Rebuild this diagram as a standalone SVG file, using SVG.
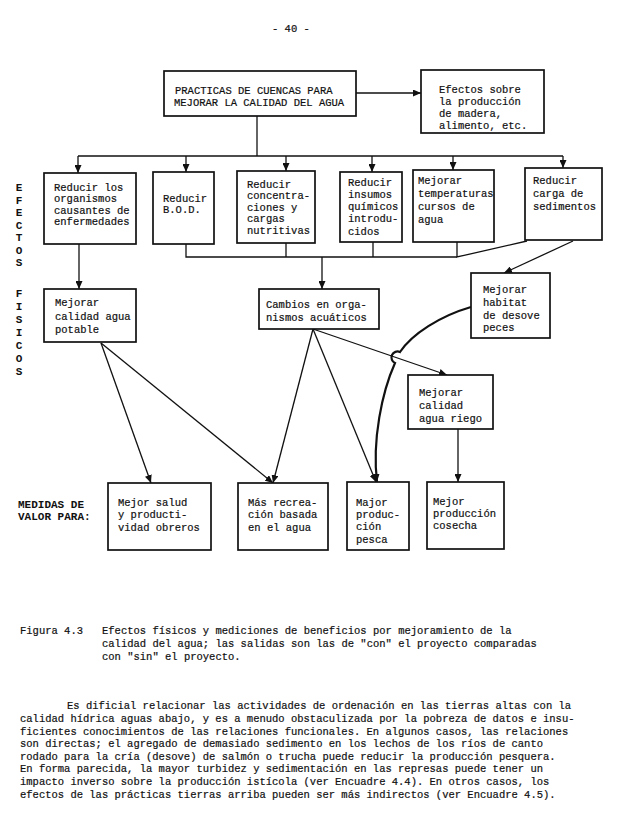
<svg xmlns="http://www.w3.org/2000/svg" width="619" height="821" viewBox="0 0 619 821">
<style>
  .t { font-family: "Liberation Mono", "Courier New", monospace; font-size: 10.5px; fill: #111; stroke: #111; stroke-width: 0.2; }
  .b { font-family: "Liberation Mono", "Courier New", monospace; font-size: 11px; font-weight: bold; fill: #111; }
  .box { fill: #fff; stroke: #111; stroke-width: 1.7; }
  .ln { fill: none; stroke: #111; stroke-width: 1.3; }
  .thick { fill: none; stroke: #111; stroke-width: 2.2; }
</style>
<defs>
  <marker id="ah" markerUnits="userSpaceOnUse" markerWidth="8" markerHeight="7" refX="8" refY="3.5" orient="auto">
    <path d="M0,0 L8,3.5 L0,7 z" fill="#111"/>
  </marker>
</defs>
<rect width="619" height="821" fill="#fff"/>

<text class="t" x="272" y="32">- 40 -</text>

<g id="side-labels">
  <text class="b" x="19" y="191" text-anchor="middle">E</text>
  <text class="b" x="19" y="203.5" text-anchor="middle">F</text>
  <text class="b" x="19" y="216" text-anchor="middle">E</text>
  <text class="b" x="19" y="228.5" text-anchor="middle">C</text>
  <text class="b" x="19" y="241" text-anchor="middle">T</text>
  <text class="b" x="19" y="253.5" text-anchor="middle">O</text>
  <text class="b" x="19" y="266" text-anchor="middle">S</text>
  <text class="b" x="19" y="297" text-anchor="middle">F</text>
  <text class="b" x="19" y="310" text-anchor="middle">I</text>
  <text class="b" x="19" y="323" text-anchor="middle">S</text>
  <text class="b" x="19" y="336" text-anchor="middle">I</text>
  <text class="b" x="19" y="349" text-anchor="middle">C</text>
  <text class="b" x="19" y="362" text-anchor="middle">O</text>
  <text class="b" x="19" y="375" text-anchor="middle">S</text>
  <text class="b" x="18" y="508">MEDIDAS DE</text>
  <text class="b" x="18" y="520">VALOR PARA:</text>
</g>

<g id="connectors">
  <path class="ln" d="M356,93 H421" marker-end="url(#ah)"/>
  <path class="ln" d="M257,116 V156"/>
  <path class="ln" d="M78,156 H563"/>
  <path class="ln" d="M78,156 V173" marker-end="url(#ah)"/>
  <path class="ln" d="M186,156 V172" marker-end="url(#ah)"/>
  <path class="ln" d="M286,156 V171" marker-end="url(#ah)"/>
  <path class="ln" d="M372,156 V172" marker-end="url(#ah)"/>
  <path class="ln" d="M453,156 V170" marker-end="url(#ah)"/>
  <path class="ln" d="M563,156 V168" marker-end="url(#ah)"/>
  <path class="ln" d="M186,244 V257 H457"/>
  <path class="ln" d="M286,243 V257"/>
  <path class="ln" d="M373,242 V257"/>
  <path class="ln" d="M457,242 V257 L527,241"/>
  <path class="ln" d="M322,257 V289" marker-end="url(#ah)"/>
  <path class="ln" d="M79,244 V289" marker-end="url(#ah)"/>
  <path class="ln" d="M573,241 L504,273" marker-end="url(#ah)"/>
  <path class="ln" d="M101,343 L151,483" marker-end="url(#ah)"/>
  <path class="ln" d="M101,343 L273,483" marker-end="url(#ah)"/>
  <path class="ln" d="M313,329 L273,483" marker-end="url(#ah)"/>
  <path class="ln" d="M313,329 L376,482" marker-end="url(#ah)"/>
  <path class="ln" d="M313,329 L447,375" marker-end="url(#ah)"/>
  <path class="ln" d="M458,429 V482" marker-end="url(#ah)"/>
  <path class="thick" d="M471,307 C440,316 412,334 400,352 A6,6 0 0 0 395,363 C382,392 372,440 377,482" marker-end="url(#ah)"/>
</g>

<g id="n-practicas">
  <rect class="box" x="164" y="71" width="192" height="45"/>
  <text class="t" x="175" y="93.5">PRACTICAS DE CUENCAS PARA</text>
  <text class="t" x="174" y="105.5">MEJORAR LA CALIDAD DEL AGUA</text>
</g>
<g id="n-efectos-madera">
  <rect class="box" x="421" y="70" width="123" height="63"/>
  <text class="t" x="439" y="92.5">Efectos sobre</text>
  <text class="t" x="439" y="104.5">la producción</text>
  <text class="t" x="439" y="116.5">de madera,</text>
  <text class="t" x="439" y="128.5">alimento, etc.</text>
</g>

<g id="n-organismos">
  <rect class="box" x="44" y="173" width="92" height="71"/>
  <text class="t" x="54" y="191">Reducir los</text>
  <text class="t" x="54" y="202">organismos</text>
  <text class="t" x="54" y="213.5">causantes de</text>
  <text class="t" x="54" y="225">enfermedades</text>
</g>
<g id="n-bod">
  <rect class="box" x="153" y="172" width="61" height="72"/>
  <text class="t" x="163" y="201.5">Reducir</text>
  <text class="t" x="163" y="212.5">B.O.D.</text>
</g>
<g id="n-nutritivas">
  <rect class="box" x="237" y="171" width="78" height="72"/>
  <text class="t" x="247" y="187.5">Reducir</text>
  <text class="t" x="247" y="199">concentra-</text>
  <text class="t" x="247" y="210.5">ciones y</text>
  <text class="t" x="247" y="222">cargas</text>
  <text class="t" x="247" y="233.5">nutritivas</text>
</g>
<g id="n-quimicos">
  <rect class="box" x="340" y="172" width="62" height="70"/>
  <text class="t" x="348" y="185.5">Reducir</text>
  <text class="t" x="348" y="198">insumos</text>
  <text class="t" x="348" y="210">químicos</text>
  <text class="t" x="348" y="222">introdu-</text>
  <text class="t" x="348" y="235">cidos</text>
</g>
<g id="n-temperaturas">
  <rect class="box" x="413" y="170" width="81" height="72"/>
  <text class="t" x="418" y="183.5">Mejorar</text>
  <text class="t" x="418" y="197">temperaturas</text>
  <text class="t" x="418" y="210">cursos de</text>
  <text class="t" x="418" y="223">agua</text>
</g>
<g id="n-sedimentos">
  <rect class="box" x="525" y="168" width="77" height="72"/>
  <text class="t" x="533" y="183.5">Reducir</text>
  <text class="t" x="533" y="197">carga de</text>
  <text class="t" x="533" y="210">sedimentos</text>
</g>

<g id="n-potable">
  <rect class="box" x="44" y="289" width="92" height="53"/>
  <text class="t" x="55" y="306">Mejorar</text>
  <text class="t" x="55" y="319.5">calidad agua</text>
  <text class="t" x="55" y="332.5">potable</text>
</g>
<g id="n-cambios">
  <rect class="box" x="259" y="289" width="120" height="40"/>
  <text class="t" x="266" y="307.5">Cambios en orga-</text>
  <text class="t" x="266" y="320.5">nismos acuáticos</text>
</g>
<g id="n-habitat">
  <rect class="box" x="471" y="273" width="79" height="65"/>
  <text class="t" x="483" y="292.5">Mejorar</text>
  <text class="t" x="483" y="305.5">habitat</text>
  <text class="t" x="483" y="318.5">de desove</text>
  <text class="t" x="483" y="330.5">peces</text>
</g>
<g id="n-riego">
  <rect class="box" x="408" y="375" width="85" height="54"/>
  <text class="t" x="419" y="395.5">Mejorar</text>
  <text class="t" x="419" y="408.5">calidad</text>
  <text class="t" x="419" y="421.5">agua riego</text>
</g>

<g id="n-salud">
  <rect class="box" x="108" y="483" width="103" height="67"/>
  <text class="t" x="118" y="505.5">Mejor salud</text>
  <text class="t" x="118" y="517.5">y producti-</text>
  <text class="t" x="118" y="530.5">vidad obreros</text>
</g>
<g id="n-recreacion">
  <rect class="box" x="238" y="483" width="90" height="67"/>
  <text class="t" x="248" y="505.5">Más recrea-</text>
  <text class="t" x="248" y="517.5">ción basada</text>
  <text class="t" x="248" y="530.5">en el agua</text>
</g>
<g id="n-pesca">
  <rect class="box" x="347" y="482" width="62" height="68"/>
  <text class="t" x="356" y="505.5">Major</text>
  <text class="t" x="356" y="517.5">produc-</text>
  <text class="t" x="356" y="529.5">ción</text>
  <text class="t" x="356" y="542.5">pesca</text>
</g>
<g id="n-cosecha">
  <rect class="box" x="427" y="482" width="77" height="67"/>
  <text class="t" x="433" y="504.5">Mejor</text>
  <text class="t" x="433" y="516.5">producción</text>
  <text class="t" x="433" y="528.5">cosecha</text>
</g>

<g id="caption">
  <text class="t" x="20" y="634">Figura 4.3</text>
  <text class="t" x="102" y="634">Efectos físicos y mediciones de beneficios por mejoramiento de la</text>
  <text class="t" x="102" y="647">calidad del agua; las salidas son las de "con" el proyecto comparadas</text>
  <text class="t" x="102" y="660">con "sin" el proyecto.</text>
</g>

<g id="paragraph">
  <text class="t" x="67" y="709">Es dificial relacionar las actividades de ordenación en las tierras altas con la</text>
  <text class="t" x="20" y="722">calidad hídrica aguas abajo, y es a menudo obstaculizada por la pobreza de datos e insu-</text>
  <text class="t" x="20" y="734.5">ficientes conocimientos de las relaciones funcionales.  En algunos casos, las relaciones</text>
  <text class="t" x="20" y="747">son directas; el agregado de demasiado sedimento en los lechos de los ríos de canto</text>
  <text class="t" x="20" y="759.5">rodado para la cría (desove) de salmón o trucha puede reducir la producción pesquera.</text>
  <text class="t" x="20" y="772">En forma parecida, la mayor turbidez y sedimentación en las represas puede tener un</text>
  <text class="t" x="20" y="785">impacto inverso sobre la producción istícola (ver Encuadre 4.4).  En otros casos, los</text>
  <text class="t" x="20" y="797.5">efectos de las prácticas tierras arriba pueden ser más indirectos (ver Encuadre 4.5).</text>
</g>
</svg>
